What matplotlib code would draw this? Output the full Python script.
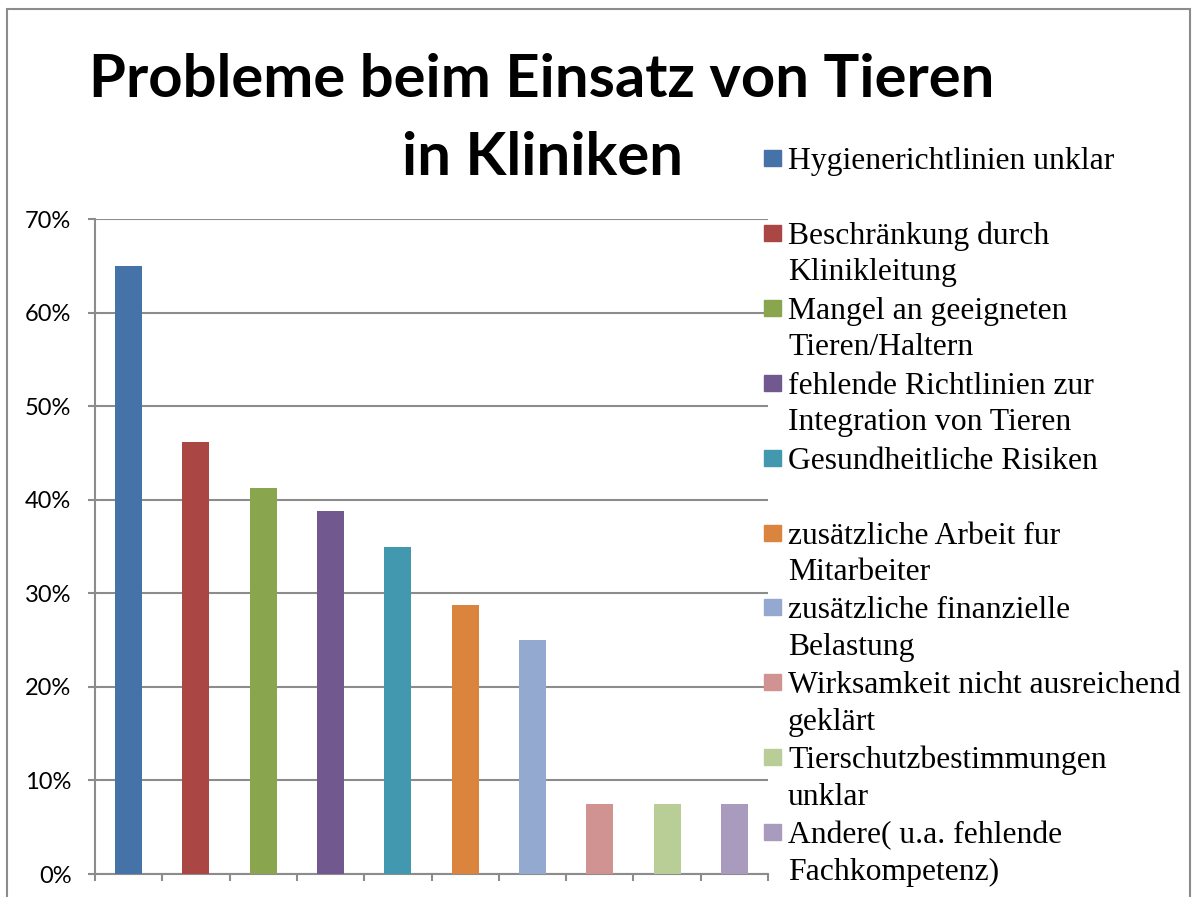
import matplotlib
matplotlib.use("Agg")
import matplotlib.pyplot as plt
from matplotlib.patches import Rectangle
from matplotlib.ticker import PercentFormatter

categories = [
    "Hygienerichtlinien unklar",
    "Beschränkung durch\nKlinikleitung",
    "Mangel an geeigneten\nTieren/Haltern",
    "fehlende Richtlinien zur\nIntegration von Tieren",
    "Gesundheitliche Risiken",
    "zusätzliche Arbeit fur\nMitarbeiter",
    "zusätzliche finanzielle\nBelastung",
    "Wirksamkeit nicht ausreichend\ngeklärt",
    "Tierschutzbestimmungen\nunklar",
    "Andere( u.a. fehlende\nFachkompetenz)",
]
values = [0.65, 0.462, 0.412, 0.388, 0.35, 0.287, 0.25, 0.075, 0.075, 0.075]
colors = ["#4572A7", "#AA4643", "#89A54E", "#71588F", "#4198AF",
          "#DB843D", "#93A9CF", "#D19392", "#B9CD96", "#A99BBD"]

W, H = 1193, 897
fig = plt.figure(figsize=(W / 100, H / 100), dpi=100)


def px(x, y):
    return x / W, 1 - y / H


ax = fig.add_axes([95 / W, 1 - 874 / H, (768 - 95) / W, (874 - 219) / H])
x = list(range(len(values)))
ax.bar(x, values, width=0.4, color=colors, zorder=3)
ax.set_xlim(-0.5, 9.5)
ax.set_ylim(0, 0.7)
ax.set_yticks([i / 10 for i in range(8)])
ax.yaxis.set_major_formatter(PercentFormatter(1.0, decimals=0))
ax.set_xticks([i - 0.5 for i in range(11)])
ax.set_xticklabels([])
ax.grid(axis="y", color="#8c8c8c", lw=1.5, zorder=0)
for s in ["top", "right"]:
    ax.spines[s].set_visible(False)
for s in ["left", "bottom"]:
    ax.spines[s].set_color("#8c8c8c")
    ax.spines[s].set_linewidth(1.5)
ax.tick_params(axis="y", direction="out", length=5, width=1.5, color="#8c8c8c",
               pad=12, labelsize=17)
ax.tick_params(axis="x", direction="out", length=5, width=1.5, color="#8c8c8c")
for lab in ax.get_yticklabels():
    lab.set_fontfamily("Lato")

# title
fig.text(*px(542, 97), "Probleme beim Einsatz von Tieren", ha="center", va="baseline",
         fontsize=43, fontweight="bold", family="Lato")
fig.text(*px(542, 175), "in Kliniken", ha="center", va="baseline",
         fontsize=43, fontweight="bold", family="Lato")

# legend, drawn entry by entry; each entry gets a two-line slot
for i, (lab, c) in enumerate(zip(categories, colors)):
    base = 169 + i * 74.9
    x0, y0 = px(764, base - 3)
    fig.add_artist(Rectangle((x0, y0), 17 / W, 16 / H, color=c,
                             transform=fig.transFigure))
    for j, line in enumerate(lab.split("\n")):
        fig.text(*px(788, base + j * 36.5), line, ha="left", va="baseline",
                 fontsize=22.8, family="Liberation Serif")

# outer frame
fig.add_artist(Rectangle(px(7, 905), (1190 - 7) / W, (905 - 9) / H, fill=False,
                         edgecolor="#8c8c8c", lw=1.5, transform=fig.transFigure,
                         clip_on=False))

fig.savefig("out.png", dpi=100)
